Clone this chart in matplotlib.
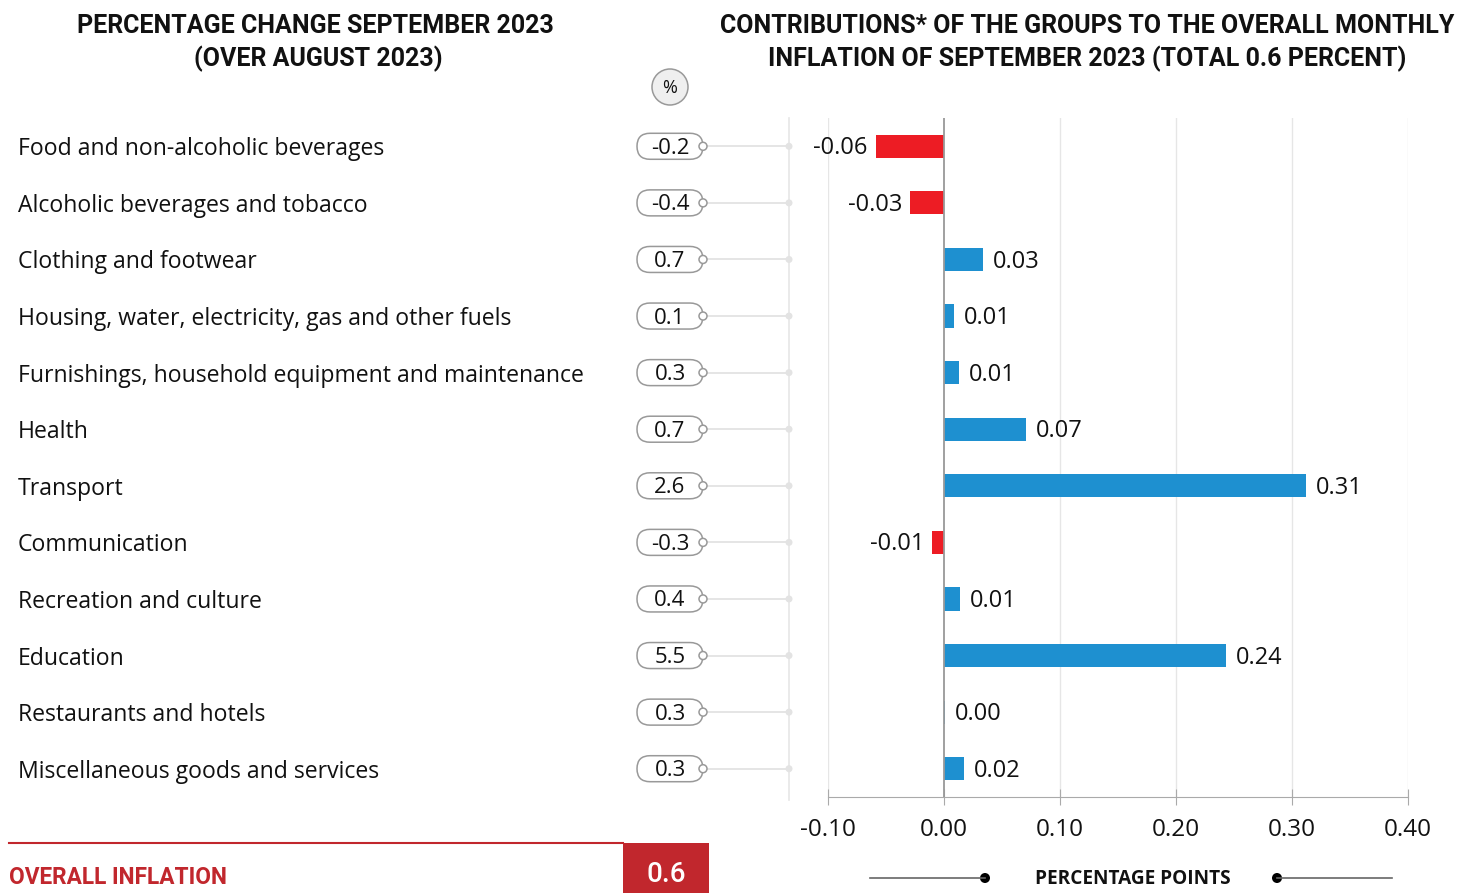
import matplotlib
matplotlib.use("Agg")
import matplotlib.pyplot as plt
from matplotlib import font_manager
from matplotlib.patches import FancyBboxPatch, Circle, Rectangle

categories = [
    "Food and non-alcoholic beverages",
    "Alcoholic beverages and tobacco",
    "Clothing and footwear",
    "Housing, water, electricity, gas and other fuels",
    "Furnishings, household equipment and maintenance",
    "Health",
    "Transport",
    "Communication",
    "Recreation and culture",
    "Education",
    "Restaurants and hotels",
    "Miscellaneous goods and services",
]
pct_change = [-0.2, -0.4, 0.7, 0.1, 0.3, 0.7, 2.6, -0.3, 0.4, 5.5, 0.3, 0.3]
contributions = [-0.059, -0.029, 0.034, 0.009, 0.013, 0.071, 0.312, -0.010, 0.014, 0.243, 0.001, 0.017]
overall = 0.6
xticks = [-0.10, 0.00, 0.10, 0.20, 0.30, 0.40]

RED = "#ed1c24"
BLUE = "#1e90d0"
DARKRED = "#c1272d"

names = {f.name for f in font_manager.fontManager.ttflist}
body_font = "Open Sans" if "Open Sans" in names else "DejaVu Sans"
title_font = "Roboto" if "Roboto" in names else body_font
plt.rcParams["font.family"] = body_font

W, H = 1472, 893
fig = plt.figure(figsize=(W / 100, H / 100), dpi=100)

# main bar axes (pixel box: x 828..1408, y 118..797)
ax = fig.add_axes([828 / W, 1 - 797 / H, 580 / W, 679 / H])
rows = list(range(len(categories)))
colors = [RED if v < 0 else BLUE for v in contributions]
ax.barh(rows, contributions, height=0.41, color=colors, zorder=3)
for r, v in zip(rows, contributions):
    lab = "%.2f" % v
    if v < 0:
        ax.annotate(lab, (v, r), xytext=(-6, -1.5), textcoords="offset points",
                    ha="right", va="center", fontsize=17, color="#111")
    else:
        ax.annotate(lab, (v, r), xytext=(7, -1.5), textcoords="offset points",
                    ha="left", va="center", fontsize=17, color="#111")
ax.set_xlim(-0.10, 0.40)
ax.set_ylim(11.5, -0.5)
ax.set_xticks(xticks)
ax.set_xticklabels(["%.2f" % t for t in xticks], fontsize=17.5, color="#111")
ax.set_yticks([])
for t in xticks:
    if t == 0:
        ax.axvline(t, color="#999999", lw=1.3, zorder=4)
    else:
        ax.axvline(t, color="#e6e6e6", lw=1, zorder=1)
for s in ["top", "right", "left"]:
    ax.spines[s].set_visible(False)
ax.spines["bottom"].set_color("#aaaaaa")
ax.tick_params(axis="x", direction="inout", length=12, color="#aaaaaa", pad=9)

# overlay in pixel coordinates
ov = fig.add_axes([0, 0, 1, 1], zorder=-1)
ov.set_xlim(0, W)
ov.set_ylim(H, 0)
ov.axis("off")


def row_px(r):
    return H - ax.transData.transform((0, r))[1]


ov.plot([789, 789], [118, 800], color="#e6e6e6", lw=1.2)
for r, cat, p in zip(rows, categories, pct_change):
    y = row_px(r)
    ov.text(18, y + 3, cat, ha="left", va="center", fontsize=16.6, color="#111")
    ov.add_patch(FancyBboxPatch((637, y - 13), 66, 26,
                                boxstyle="round,pad=0,rounding_size=13",
                                fc="white", ec="#999999", lw=1.1))
    ov.text(670, y + 2, "%.1f" % p, ha="center", va="center", fontsize=16, color="#111")
    ov.plot([707, 789], [y, y], color="#e3e3e3", lw=1.3)
    ov.add_patch(Circle((703, y), 4, fc="white", ec="#999999", lw=1.1, zorder=3))
    ov.add_patch(Circle((789, y), 3.5, fc="#e3e3e3", ec="none", zorder=3))

ov.add_patch(Circle((670, 87), 18, fc="#efefef", ec="#999999", lw=1.1))
ov.text(670, 88, "%", ha="center", va="center", fontsize=13, color="#111")

# titles
tkw = dict(ha="center", va="center", fontsize=18, fontweight="bold",
           family=title_font, color="#111")
ov.text(315, 26, "PERCENTAGE CHANGE SEPTEMBER 2023", **tkw)
ov.text(318, 59, "(OVER AUGUST 2023)", **tkw)
ov.text(1087, 26, "CONTRIBUTIONS* OF THE GROUPS TO THE OVERALL MONTHLY", **tkw)
ov.text(1087, 59, "INFLATION OF SEPTEMBER 2023 (TOTAL 0.6 PERCENT)", **tkw)

# overall inflation
ov.plot([9, 623], [843, 843], color=DARKRED, lw=1.5)
ov.add_patch(Rectangle((623, 843), 86, 50, fc=DARKRED, ec="none"))
ov.text(666, 874, "%.1f" % overall, ha="center", va="center", fontsize=20,
        color="white", fontweight="medium", family=title_font)
ov.text(9, 877, "OVERALL INFLATION", ha="left", va="center", fontsize=16.3,
        fontweight="bold", family=title_font, color=DARKRED)

# axis caption
ov.plot([870, 985], [878, 878], color="#666666", lw=1.2)
ov.plot([1277, 1392], [878, 878], color="#666666", lw=1.2)
ov.add_patch(Circle((985, 878), 5, fc="black", ec="none"))
ov.add_patch(Circle((1277, 878), 5, fc="black", ec="none"))
ov.text(1133, 879, "PERCENTAGE POINTS", ha="center", va="center", fontsize=13.7,
        fontweight="bold", color="#111")

fig.savefig("out.png", dpi=100)
